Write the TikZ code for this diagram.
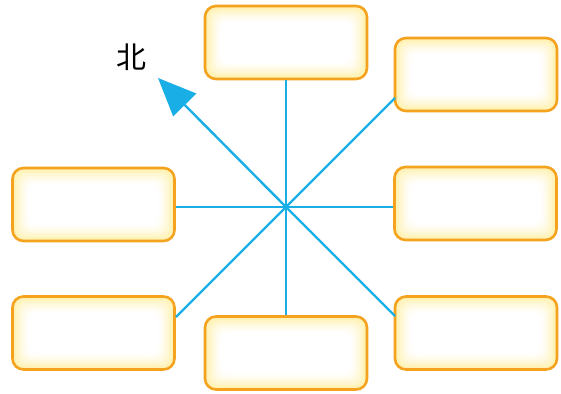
\documentclass[tikz,border=0pt]{standalone}
\usepackage{fontspec}
\newfontfamily\cjk{Noto Sans CJK SC}
\usetikzlibrary{arrows.meta}
\definecolor{boxedge}{HTML}{F5A21E}
\definecolor{glow}{HTML}{FFF0A8}
\definecolor{dirline}{HTML}{19AEE6}
\tikzset{
  answerbox/.style={draw=boxedge, line width=2.6pt, rounded corners=11pt,
    minimum width=162pt, minimum height=73pt, inner sep=0pt,
    path picture={
      \foreach \i in {0,...,11}{
        \pgfmathsetmacro\pc{100*(1-\i/11)^1.5}
        \fill[glow!\pc!white, rounded corners=9pt]
          ([shift={(\i*1.5pt,\i*1.5pt)}]path picture bounding box.south west)
          rectangle
          ([shift={(-\i*1.5pt,-\i*1.5pt)}]path picture bounding box.north east);
      }
    }},
  ray/.style={draw=dirline, line width=2.4pt}
}
\begin{document}
\begin{tikzpicture}[x=1pt,y=-1pt]
\useasboundingbox (0,0) rectangle (561,393);
\coordinate (c) at (286,207);
\node[answerbox] (top) at (286,42.5) {};
\node[answerbox] (topright) at (476,74.5) {};
\node[answerbox] (right) at (475.5,203.5) {};
\node[answerbox] (botright) at (476,333) {};
\node[answerbox] (bot) at (286,353) {};
\node[answerbox] (left) at (93.5,204.5) {};
\node[answerbox] (botleft) at (93.5,333) {};
\coordinate (tr) at (395,98);
\coordinate (br) at (395,316);
\coordinate (bl) at (176,317);
\coordinate (tip) at (158,78);
\draw[ray] (c) -- (c |- top.south);
\draw[ray] (c) -- (right.west |- c);
\draw[ray] (c) -- (left.east |- c);
\draw[ray] (c) -- (c |- bot.north);
\draw[ray] (c) -- (tr);
\draw[ray] (c) -- (br);
\draw[ray] (c) -- (bl);
\draw[ray, -{Triangle[length=38pt,width=32pt]}] (c) -- (tip);
\node (north) at (131,57) {\cjk\fontsize{30}{30}\selectfont 北};
\end{tikzpicture}
\end{document}
